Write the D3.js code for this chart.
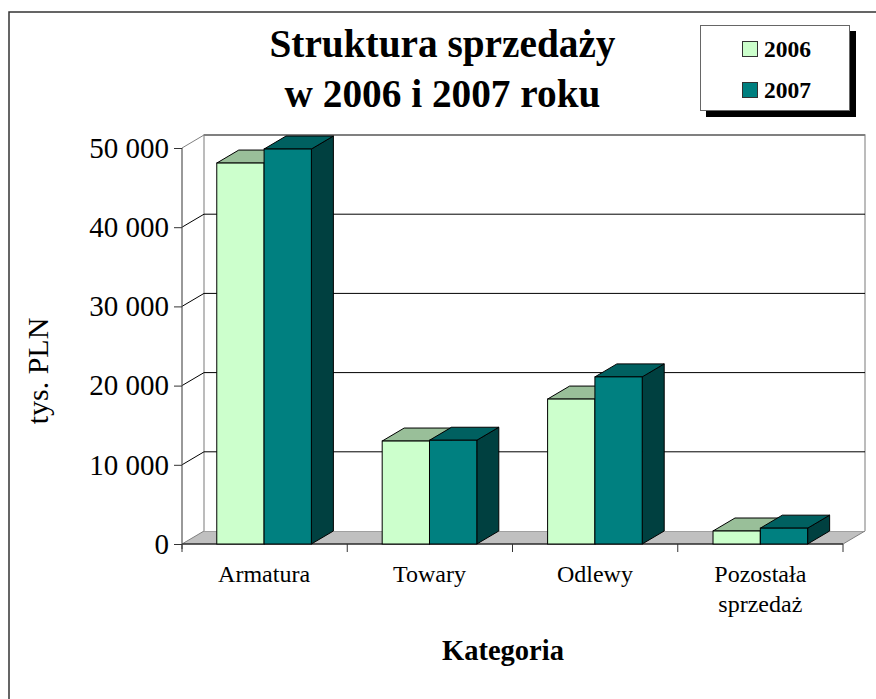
<!DOCTYPE html>
<html><head><meta charset="utf-8">
<script src="https://cdn.jsdelivr.net/npm/d3@7"></script>
<style>html,body{margin:0;background:#fff}svg{display:block}text{font-family:"Liberation Serif","Times New Roman",serif;fill:#000}</style>
</head><body><svg id="c" width="876" height="699"></svg>
<script>
const categories=[["Armatura"],["Towary"],["Odlewy"],["Pozostała","sprzedaż"]];
const catKeys=categories.map(c=>c.join(" "));
const seriesNames=["2006","2007"];
const values2006=[48100,13000,18300,1640];
const values2007=[49870,13100,21100,2000];
const yTicks=[0,10000,20000,30000,40000,50000];
const fronts=["#ccffcc","#008080"],tops=["#99bf99","#006060"],sides=["#7fa07f","#004040"];
const svg=d3.select("#c");
const dx=22,dy=-13;
svg.append("path").attr("d","M9,699V12H876").attr("fill","none").attr("stroke","#333").attr("stroke-width",1.5);
const x=d3.scaleBand().domain(catKeys).range([181.7,842.7]).paddingInner(0.428).paddingOuter(0.212);
const inner=d3.scaleBand().domain(seriesNames).range([0,x.bandwidth()]);
const y=d3.scaleLinear().domain([0,50000]).range([544,148]);
const fmt=v=>d3.format(",")(v).replace(/,/g," ");
const L=182,R=843,B=y(0);
svg.append("path").attr("d",`M${L},${B}L${L+dx},${B+dy}H${R+dx}L${R},${B}Z`).attr("fill","#c0c0c0").attr("stroke","#808080");
svg.append("path").attr("d",`M${L+dx},${B+dy}V${y(50000)+dy}H${R+dx}V${B+dy}`).attr("fill","#fff").attr("stroke","#a6a6a6").attr("stroke-width",1.5);
svg.append("line").attr("x1",L+dx).attr("x2",R+dx).attr("y1",y(50000)+dy).attr("y2",y(50000)+dy).attr("stroke","#808080").attr("stroke-width",2);
yTicks.slice(1,-1).forEach(t=>{
  svg.append("line").attr("x1",L+dx).attr("x2",R+dx).attr("y1",y(t)+dy).attr("y2",y(t)+dy).attr("stroke","#000");
});
yTicks.slice(1).forEach(t=>{
  svg.append("line").attr("x1",L).attr("x2",L+dx).attr("y1",y(t)).attr("y2",y(t)+dy).attr("stroke",t==50000?"#808080":"#000");
});
svg.append("line").attr("x1",L).attr("x2",R).attr("y1",B).attr("y2",B).attr("stroke","#000").attr("stroke-width",1.2);
svg.append("line").attr("x1",L).attr("x2",L).attr("y1",y(50000)).attr("y2",B+5).attr("stroke","#555").attr("stroke-width",1.2);
const ya=d3.axisLeft(y).tickValues(yTicks).tickFormat(fmt).tickSize(8).tickPadding(5);
const yg=svg.append("g").attr("transform",`translate(${L},0)`).call(ya);
yg.select(".domain").remove();
yg.selectAll("line").attr("stroke","#333");
yg.selectAll("text").attr("font-size",29).attr("font-family","Liberation Serif");
const tickXs=d3.range(0,5).map(i=>L+(R-L)*i/4);
svg.selectAll(".xt").data(tickXs).join("line").attr("x1",d=>d).attr("x2",d=>d).attr("y1",B).attr("y2",B+8).attr("stroke","#333");
seriesNames.forEach((s,si)=>{
  const vals=si?values2007:values2006;
  const g=svg.append("g");
  catKeys.forEach((c,i)=>{
    const x0=x(c)+inner(s),w=inner.bandwidth(),t=y(vals[i]);
    g.append("path").attr("d",`M${x0+w},${B}l${dx},${dy}V${t+dy}l${-dx},${-dy}Z`).attr("fill",sides[si]).attr("stroke","#000");
    g.append("path").attr("d",`M${x0},${t}l${dx},${dy}h${w}l${-dx},${-dy}Z`).attr("fill",tops[si]).attr("stroke","#000");
    g.append("rect").attr("x",x0).attr("y",t).attr("width",w).attr("height",B-t).attr("fill",fronts[si]).attr("stroke","#000");
  });
});
categories.forEach((lines,i)=>{
  lines.forEach((l,j)=>{
    svg.append("text").attr("x",x(catKeys[i])+x.bandwidth()/2).attr("y",582+j*30).attr("text-anchor","middle").attr("font-size",24).text(l);
  });
});
const title=["Struktura sprzedaży","w 2006 i 2007 roku"];
title.forEach((l,j)=>svg.append("text").attr("x",442.5).attr("y",57+j*50).attr("text-anchor","middle").attr("font-size",39.3).attr("font-weight","bold").text(l));
svg.append("text").attr("x",503).attr("y",660).attr("text-anchor","middle").attr("font-size",28.5).attr("font-weight","bold").text("Kategoria");
svg.append("text").attr("transform","translate(47.5,371) rotate(-90)").attr("text-anchor","middle").attr("font-size",30).text("tys. PLN");
svg.append("rect").attr("x",706).attr("y",31).attr("width",150).attr("height",86).attr("fill","#000");
svg.append("rect").attr("x",700.5).attr("y",25.5).attr("width",149).attr("height",85).attr("fill","#fff").attr("stroke","#666").attr("stroke-width",1);
seriesNames.forEach((s,i)=>{
  const ly=[49,90][i];
  svg.append("rect").attr("x",742.5).attr("y",ly-7.5).attr("width",15).attr("height",15).attr("fill",fronts[i]).attr("stroke","#333");
  svg.append("text").attr("x",764).attr("y",ly+8).attr("font-size",23.5).attr("font-weight","bold").text(s);
});
</script></body></html>
